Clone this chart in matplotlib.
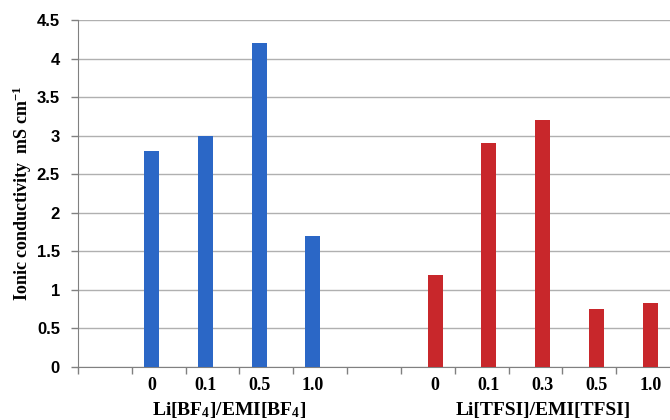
import numpy as np
import matplotlib
matplotlib.use("Agg")
import matplotlib.pyplot as plt

plt.rcParams["mathtext.fontset"] = "custom"
plt.rcParams["mathtext.rm"] = "Liberation Serif:bold"
plt.rcParams["mathtext.bf"] = "Liberation Serif:bold"
plt.rcParams["mathtext.it"] = "Liberation Serif:bold:italic"

# Data
categories = ["", "0", "0.1", "0.5", "1.0", "", "0", "0.1", "0.3", "0.5", "1.0"]
bf4_values = [0, 2.8, 3.0, 4.2, 1.7, 0, 0, 0, 0, 0, 0]
tfsi_values = [0, 0, 0, 0, 0, 0, 1.2, 2.9, 3.2, 0.75, 0.83]
group_labels = ["Li[BF$_\\mathrm{4}$]/EMI[BF$_\\mathrm{4}$]", "Li[TFSI]/EMI[TFSI]"]

x = np.arange(len(categories))
bar_w = 0.28
off = 0.135

fig = plt.figure(figsize=(6.7, 4.2), dpi=100)
ax = fig.add_axes([0.1164, 0.1262, 0.8836, 0.8258])

ax.bar(x - off, bf4_values, width=bar_w, color="#2B67C6", zorder=3)
ax.bar(x + off, tfsi_values, width=bar_w, color="#C8272B", zorder=3)

ax.set_xlim(-0.5, len(categories) - 0.5)
ax.set_ylim(0, 4.5)
ax.set_yticks(np.arange(0, 4.51, 0.5))
ax.set_yticklabels(["0", "0.5", "1", "1.5", "2", "2.5", "3", "3.5", "4", "4.5"],
                   fontfamily="Liberation Sans", fontweight="bold", fontsize=12)
ax.grid(axis="y", color="#b0b0b0", linewidth=1.0, zorder=0)

# category boundary ticks
ax.set_xticks(np.arange(-0.5, len(categories) - 0.5, 1.0))
ax.set_xticklabels([])
ax.tick_params(axis="x", length=5, color="#808080", width=1)
ax.tick_params(axis="y", length=5, color="#808080", width=1, pad=8)

for i, lab in enumerate(categories):
    if lab == "":
        continue
    pos = x[i] - off if i < 5 else x[i] + off
    ax.text(pos, -0.24, lab, ha="center", va="center", fontsize=13,
            fontfamily="Liberation Serif", fontweight="bold")

ax.text(2.3, -0.56, group_labels[0], ha="center", va="center", fontsize=14,
        fontfamily="Liberation Serif", fontweight="bold")
ax.text(8.15, -0.56, group_labels[1], ha="center", va="center", fontsize=14,
        fontfamily="Liberation Serif", fontweight="bold")

ax.set_ylabel("Ionic conductivity  mS cm$^{\\mathrm{-1}}$", fontfamily="Liberation Serif",
              fontweight="bold", fontsize=13, labelpad=2)

for s in ["top", "right"]:
    ax.spines[s].set_visible(False)
ax.spines["left"].set_color("#808080")
ax.spines["bottom"].set_color("#808080")

fig.savefig("out.png", dpi=100)
